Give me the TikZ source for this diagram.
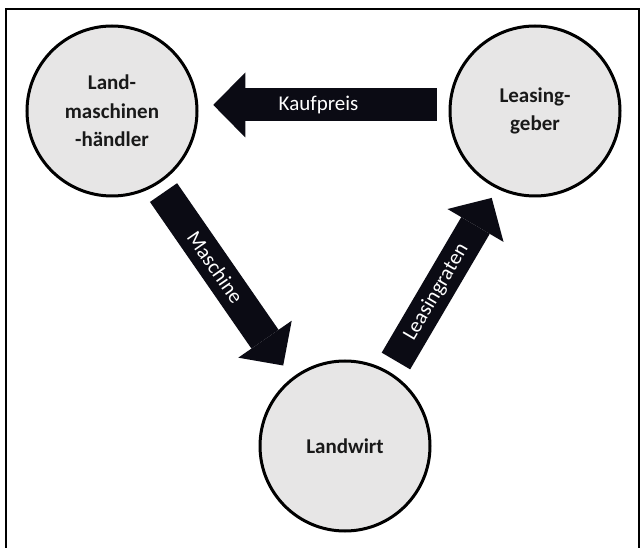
\documentclass[tikz,border=0pt]{standalone}
\usepackage{fontspec}
\setmainfont{Carlito}
\usetikzlibrary{arrows.meta}
\definecolor{partyfill}{HTML}{E7E6E6}
\definecolor{flowblack}{HTML}{0B0B14}
\tikzset{
  party/.style={circle, draw, line width=3pt, fill=partyfill, minimum size=170pt,
    inner sep=0pt, align=center, text=black!90,
    font=\fontsize{21}{28.5}\selectfont\bfseries},
  flow/.style={draw=flowblack, line width=33pt,
    -{Triangle[length=32pt, width=65pt, line width=0pt]}},
  flowlabel/.style={sloped, text=white, font=\fontsize{21}{24}\selectfont}
}
\begin{document}
\begin{tikzpicture}[x=1pt, y=-1pt]
\useasboundingbox (0,0) rectangle (643,548);
\draw[line width=1.5pt] (6,548) |- (639,9) -- (639,548);
% the three parties
\node[party] (haendler) at (112,111) {Land-\\maschinen\\-händler};
\node[party] (geber) at (535,111) {Leasing-\\geber};
\node[party] (landwirt) at (345,446) {Landwirt};
% flows between them
\draw[flow, shorten <=12pt, shorten >=15pt] (geber.176) -- (haendler.4)
  node[flowlabel, pos=.52] {Kaufpreis};
\draw[flow, shorten <=10pt, shorten >=15pt] (haendler.-58) -- (landwirt.128)
  node[flowlabel, pos=.43] {Maschine};
\draw[flow, shorten <=12.6pt, shorten >=10.6pt] (landwirt.59) -- (geber.-116)
  node[flowlabel, pos=.435] {Leasingraten};
\end{tikzpicture}
\end{document}
